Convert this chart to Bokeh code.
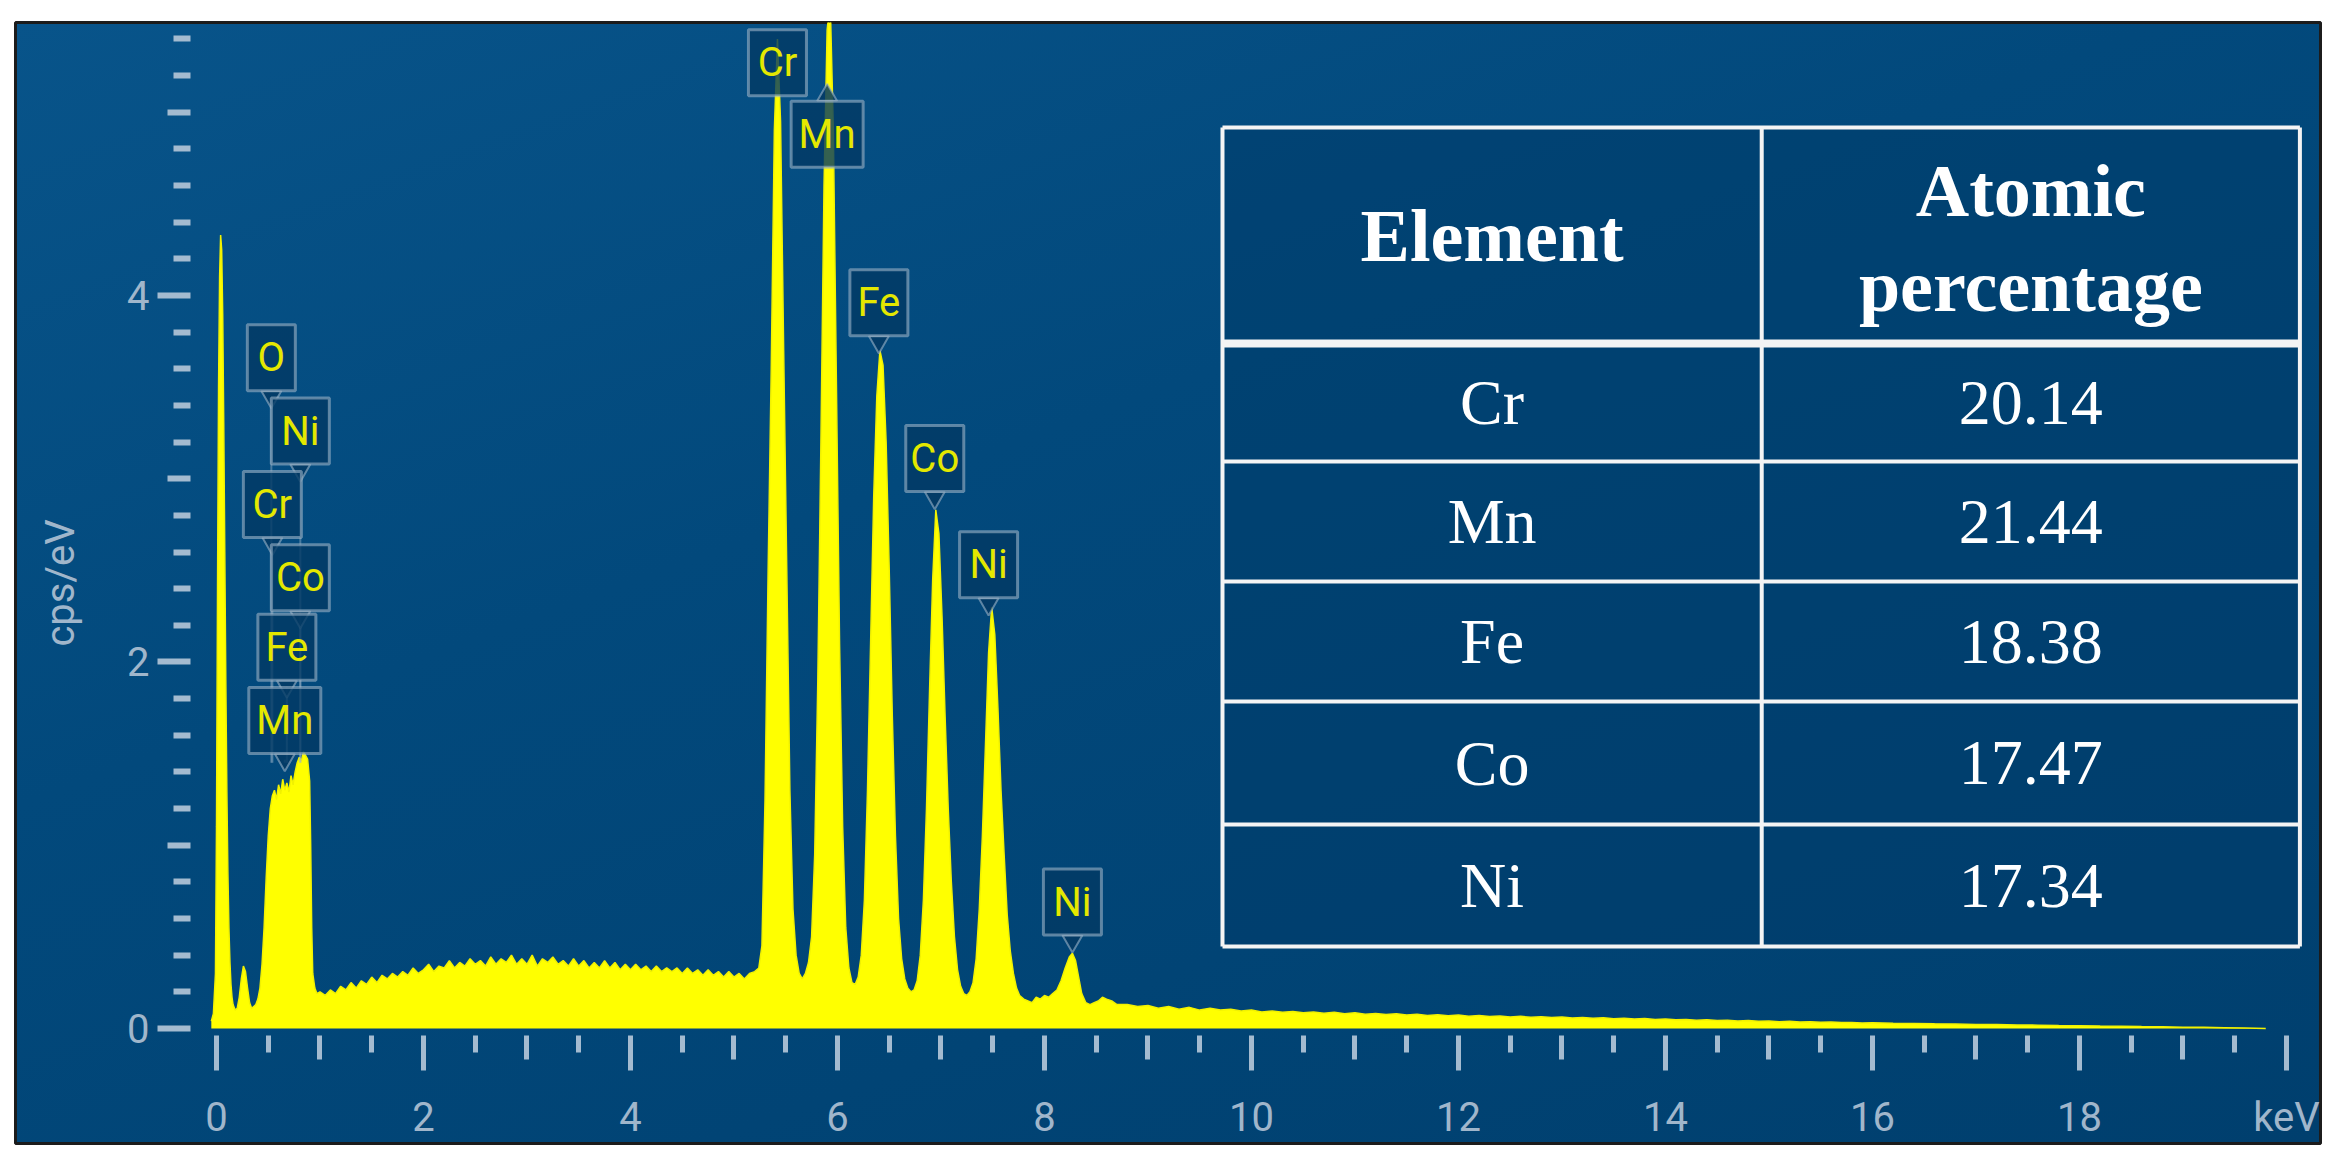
from bokeh.plotting import figure
from bokeh.models import Range1d, FixedTicker, LinearAxis, CustomLabelingPolicy
from bokeh.core.properties import value
from bokeh.embed import file_html
from bokeh.resources import INLINE

# ---------------- data ----------------
energy_kev = [
    -0.05, -0.03, -0.01, 0.00, 0.01, 0.02, 0.03, 0.04, 0.05, 0.06, 0.07, 0.08, 0.09, 0.10, 0.11,
    0.12, 0.13, 0.14, 0.15, 0.16, 0.18, 0.20, 0.22, 0.24, 0.26, 0.28, 0.30, 0.32, 0.34,
    0.36, 0.38, 0.40, 0.42, 0.44, 0.46, 0.48, 0.50, 0.52, 0.54, 0.56, 0.58, 0.60, 0.62, 0.64,
    0.66, 0.68, 0.70, 0.72, 0.74, 0.76, 0.78, 0.80, 0.82, 0.84, 0.86, 0.88, 0.90, 0.91, 0.92,
    0.93, 0.95, 0.97,
    1.00, 1.05, 1.10, 1.15, 1.20, 1.25, 1.30, 1.35, 1.40, 1.45, 1.50, 1.55, 1.60, 1.65, 1.70,
    1.75, 1.80, 1.85, 1.90, 1.95, 2.00, 2.05, 2.10, 2.15, 2.20, 2.25, 2.30, 2.35, 2.40, 2.45,
    2.50, 2.55, 2.60, 2.65, 2.70, 2.75, 2.80, 2.85, 2.90, 2.95, 3.00, 3.05, 3.10, 3.15, 3.20,
    3.25, 3.30, 3.35, 3.40, 3.45, 3.50, 3.55, 3.60, 3.65, 3.70, 3.75, 3.80, 3.85, 3.90, 3.95,
    4.00, 4.05, 4.10, 4.15, 4.20, 4.25, 4.30, 4.35, 4.40, 4.45, 4.50, 4.55, 4.60, 4.65, 4.70,
    4.75, 4.80, 4.85, 4.90, 4.95, 5.00, 5.05, 5.10, 5.15, 5.20,
    5.24, 5.27, 5.30, 5.33, 5.36, 5.39, 5.42, 5.45, 5.48, 5.51, 5.54, 5.57, 5.60, 5.63, 5.66,
    5.69, 5.72, 5.75, 5.78, 5.81, 5.84, 5.87, 5.90, 5.93, 5.96, 5.99, 6.02, 6.05, 6.08, 6.11,
    6.14, 6.17, 6.20, 6.23, 6.26, 6.29, 6.32, 6.35, 6.38, 6.41, 6.44, 6.47, 6.50, 6.53, 6.56,
    6.59, 6.62, 6.65, 6.68, 6.71, 6.74, 6.77, 6.80, 6.83, 6.86, 6.89, 6.92, 6.95, 6.98, 7.01,
    7.04, 7.07, 7.10, 7.13, 7.16, 7.19, 7.22, 7.25, 7.28, 7.31, 7.34, 7.37, 7.40, 7.43, 7.46,
    7.49, 7.52, 7.55, 7.58, 7.61, 7.64, 7.67, 7.70, 7.73, 7.76, 7.80, 7.84, 7.88, 7.92, 7.96,
    8.00, 8.04, 8.08, 8.12, 8.16, 8.20, 8.24, 8.27, 8.30, 8.33, 8.36, 8.40, 8.44, 8.48, 8.52,
    8.56, 8.60, 8.65, 8.70,
    8.8, 8.9, 9.0, 9.1, 9.2, 9.3, 9.4, 9.5, 9.6, 9.7, 9.8, 9.9, 10.0, 10.1, 10.2,
    10.3, 10.4, 10.5, 10.6, 10.7, 10.8, 10.9, 11.0, 11.1, 11.2, 11.3, 11.4, 11.5, 11.6, 11.7,
    11.8, 11.9, 12.0, 12.1, 12.2, 12.3, 12.4, 12.5, 12.6, 12.7, 12.8, 12.9, 13.0, 13.1, 13.2,
    13.3, 13.4, 13.5, 13.6, 13.7, 13.8, 13.9, 14.0, 14.1, 14.2, 14.3, 14.4, 14.5, 14.6, 14.7,
    14.8, 14.9, 15.0, 15.1, 15.2, 15.3, 15.4, 15.5, 15.6, 15.7, 15.8, 15.9, 16.0, 16.2, 16.4,
    16.6, 16.8, 17.0, 17.2, 17.4, 17.6, 17.8, 18.0, 18.2, 18.4, 18.6, 18.8, 19.0, 19.2, 19.4,
    19.6, 19.8,
]
counts_cps_ev = [
    0.04, 0.08, 0.30, 1.10, 2.40, 3.50, 4.10, 4.33, 4.25, 3.90, 3.30, 2.60, 1.90, 1.30, 0.85,
    0.55, 0.36, 0.24, 0.17, 0.13, 0.10, 0.11, 0.17, 0.27, 0.34, 0.31, 0.22, 0.14, 0.11,
    0.12, 0.13, 0.16, 0.22, 0.35, 0.55, 0.82, 1.05, 1.20, 1.27, 1.30, 1.25, 1.33, 1.28, 1.36,
    1.30, 1.34, 1.29, 1.38, 1.33, 1.40, 1.45, 1.48, 1.46, 1.51, 1.49, 1.47, 1.35, 1.00, 0.55,
    0.30, 0.22, 0.19,
    0.20, 0.18, 0.21, 0.19, 0.23, 0.21, 0.25, 0.22, 0.26, 0.24, 0.28, 0.25, 0.29, 0.27, 0.30,
    0.28, 0.31, 0.29, 0.33, 0.30, 0.32, 0.35, 0.31, 0.34, 0.33, 0.37, 0.33, 0.36, 0.34, 0.38,
    0.35, 0.37, 0.34, 0.39, 0.35, 0.38, 0.36, 0.40, 0.35, 0.38, 0.35, 0.40, 0.34, 0.38, 0.36,
    0.39, 0.35, 0.37, 0.34, 0.38, 0.34, 0.37, 0.33, 0.36, 0.33, 0.37, 0.33, 0.36, 0.32, 0.35,
    0.32, 0.35, 0.32, 0.34, 0.31, 0.34, 0.31, 0.33, 0.31, 0.33, 0.30, 0.33, 0.30, 0.32, 0.29,
    0.32, 0.29, 0.31, 0.28, 0.31, 0.28, 0.30, 0.27, 0.30, 0.31,
    0.33, 0.45, 1.25, 2.50, 3.60, 4.90, 5.40, 4.95, 3.70, 2.50, 1.30, 0.65, 0.40, 0.30, 0.27,
    0.30, 0.36, 0.50, 0.95, 1.90, 3.20, 4.60, 5.45, 5.60, 4.90, 3.50, 2.10, 1.10, 0.55, 0.33,
    0.25, 0.24, 0.28, 0.40, 0.70, 1.30, 2.10, 2.90, 3.45, 3.70, 3.62, 3.20, 2.50, 1.70, 1.05,
    0.60, 0.38, 0.27, 0.22, 0.20, 0.21, 0.26, 0.40, 0.70, 1.20, 1.85, 2.45, 2.83, 2.70, 2.25,
    1.70, 1.20, 0.80, 0.50, 0.32, 0.23, 0.19, 0.18, 0.20, 0.25, 0.38, 0.65, 1.05, 1.55, 2.05,
    2.30, 2.15, 1.75, 1.30, 0.95, 0.62, 0.42, 0.30, 0.22, 0.18, 0.16, 0.15, 0.14, 0.17, 0.16,
    0.18, 0.17, 0.19, 0.21, 0.26, 0.33, 0.39, 0.41, 0.37, 0.28, 0.19, 0.14, 0.13, 0.14, 0.15,
    0.17, 0.16, 0.15, 0.13,
    0.13, 0.12, 0.125, 0.11, 0.12, 0.105, 0.115, 0.10, 0.11, 0.10, 0.105, 0.095, 0.10, 0.09, 0.095,
    0.088, 0.093, 0.085, 0.09, 0.083, 0.088, 0.08, 0.085, 0.078, 0.082, 0.076, 0.08, 0.073, 0.077, 0.071,
    0.075, 0.069, 0.073, 0.067, 0.07, 0.065, 0.068, 0.063, 0.066, 0.061, 0.064, 0.059, 0.062, 0.057, 0.06,
    0.055, 0.058, 0.053, 0.056, 0.051, 0.054, 0.049, 0.051, 0.047, 0.049, 0.045, 0.047, 0.043, 0.045, 0.041,
    0.043, 0.039, 0.041, 0.037, 0.039, 0.035, 0.037, 0.034, 0.035, 0.032, 0.033, 0.03, 0.031, 0.028, 0.027,
    0.025, 0.024, 0.022, 0.021, 0.019, 0.018, 0.016, 0.015, 0.013, 0.012, 0.01, 0.009, 0.007, 0.006, 0.004,
    0.002, 0.0,
]

# peak tags (element, energy of tag, height of tag centre)
tag_names = ["Cr", "Mn", "Fe", "Co", "Ni", "Ni", "O", "Ni", "Cr", "Co", "Fe", "Mn"]
tag_x_kev = [5.42, 5.90, 6.40, 6.94, 7.46, 8.27, 0.53, 0.81, 0.54, 0.81, 0.68, 0.66]
tag_y_cps = [5.27, 4.88, 3.96, 3.11, 2.53, 0.69, 3.66, 3.26, 2.86, 2.46, 2.08, 1.68]
tag_notch = ["none", "up", "down", "down", "down", "down", "down", "down", "down", "down", "down", "down"]
tag_leader = [False, False, False, False, False, False, True, True, True, True, True, True]

# table of composition
table_elements = ["Cr", "Mn", "Fe", "Co", "Ni"]
table_atomic_pct = ["20.14", "21.44", "18.38", "17.47", "17.34"]
table_header = ["Element", "Atomic", "percentage"]

# axis ticks
x_major_ticks = [0, 2, 4, 6, 8, 10, 12, 14, 16, 18, 20]
x_mid_ticks = [1, 3, 5, 7, 9, 11, 13, 15, 17, 19]
x_minor_ticks = [0.5, 1.5, 2.5, 3.5, 4.5, 5.5, 6.5, 7.5, 8.5, 9.5, 10.5, 11.5,
                 12.5, 13.5, 14.5, 15.5, 16.5, 17.5, 18.5, 19.5]
x_tick_overrides = {20: "keV"}
y_major_ticks = [0, 2, 4]
y_mid_ticks = [1, 3, 5]
y_minor_ticks = [0.2, 0.4, 0.6, 0.8, 1.2, 1.4, 1.6, 1.8, 2.2, 2.4, 2.6, 2.8, 3.2, 3.4,
                 3.6, 3.8, 4.2, 4.4, 4.6, 4.8, 5.2, 5.4]

# ---------------- layout / style ----------------
# the plot frame is the whole blue panel; the axes sit inside it
FW, FH = 2340, 1153
ML, MR, MT, MB = 15, 20, 22, 10
X0, X1 = -1.942, 20.329
Y0, Y1 = -0.628, 5.490
AX_X = -0.251      # where the y ticks end
AX_Y = -0.038      # where the x ticks start
PX_PER_Y = (FH - MT - MB) / (Y1 - Y0)

TICK_C = "#a4bbd0"
LABEL_C = "#a0b6cb"
SANS = "Roboto"
SERIF = "Liberation Serif"
TAG_FILL = "#033a64"
TAG_LINE = "#9db4c8"

p = figure(width=FW, height=FH, output_backend="svg", toolbar_location=None,
           x_range=Range1d(X0, X1), y_range=Range1d(Y0, Y1),
           x_axis_location=None, y_axis_location=None,
           min_border_left=ML, min_border_right=MR, min_border_top=MT, min_border_bottom=MB)
panel_w = FW - ML - MR
panel_h = FH - MT - MB
p.styles = {
    "background": "white linear-gradient(160deg, #08548a 0%, #02497c 40%, #003f6e 100%) "
                  f"{ML}px {MT}px / {panel_w}px {panel_h}px no-repeat",
}
p.background_fill_alpha = 0
p.border_fill_color = "white"
p.border_fill_alpha = 1
p.outline_line_color = "#1c1c1c"
p.outline_line_width = 3
p.grid.visible = False


def style_ticks(ax, major_out, minor_out, lw):
    ax.axis_line_color = None
    ax.major_tick_in = 0
    ax.major_tick_out = major_out
    ax.minor_tick_in = 0
    ax.minor_tick_out = minor_out
    ax.major_tick_line_color = TICK_C
    ax.minor_tick_line_color = TICK_C
    ax.major_tick_line_width = lw
    ax.minor_tick_line_width = lw


NO_LABELS = CustomLabelingPolicy(code="return []")

# x axis
xa = LinearAxis(fixed_location=AX_Y,
                ticker=FixedTicker(ticks=x_major_ticks, minor_ticks=x_minor_ticks))
xa.major_label_overrides = x_tick_overrides
style_ticks(xa, 35, 17, 5)
xa.major_label_text_font = SANS
xa.major_label_text_font_size = "40px"
xa.major_label_text_color = LABEL_C
xa.major_label_standoff = 24
p.add_layout(xa, "below")

xmid = LinearAxis(fixed_location=AX_Y, ticker=FixedTicker(ticks=x_mid_ticks, minor_ticks=[]),
                  major_label_policy=NO_LABELS)
style_ticks(xmid, 24, 0, 5)
p.add_layout(xmid, "below")

# y axis
ya = LinearAxis(fixed_location=AX_X,
                ticker=FixedTicker(ticks=y_major_ticks, minor_ticks=y_minor_ticks))
style_ticks(ya, 33, 17, 6)
ya.major_label_text_font = SANS
ya.major_label_text_font_size = "40px"
ya.major_label_text_color = LABEL_C
ya.major_label_standoff = 8
ya.axis_label = "cps/eV"
ya.axis_label_text_font = SANS
ya.axis_label_text_font_size = "40px"
ya.axis_label_text_font_style = "normal"
ya.axis_label_text_color = LABEL_C
ya.axis_label_standoff = 40
p.add_layout(ya, "left")

ymid = LinearAxis(fixed_location=AX_X, ticker=FixedTicker(ticks=y_mid_ticks, minor_ticks=[]),
                  major_label_policy=NO_LABELS)
style_ticks(ymid, 23, 0, 6)
p.add_layout(ymid, "left")

# spectrum
p.varea(x=energy_kev, y1=0, y2=counts_cps_ev, fill_color="#ffff00")
p.line(x=energy_kev, y=counts_cps_ev, line_color="#f2f200", line_width=1.5)

# table (positions in data units)
T_L, T_M, T_R = 9.72, 14.93, 20.13
T_ROWS = [4.917, 3.738, 3.094, 2.439, 1.784, 1.113, 0.447]
p.quad(left=[T_L], right=[T_R], top=[T_ROWS[0]], bottom=[T_ROWS[-1]],
       fill_color="#003c69", fill_alpha=0.55, line_color=None)
for i, yy in enumerate(T_ROWS):
    p.segment(x0=[T_L], y0=[yy], x1=[T_R], y1=[yy], line_color="#f4f4f4",
              line_width=8 if i == 1 else 4)
for xx in (T_L, T_M, T_R):
    p.segment(x0=[xx], y0=[T_ROWS[-1]], x1=[xx], y1=[T_ROWS[0]], line_color="#f4f4f4", line_width=4)

col1 = (T_L + T_M) / 2
col2 = (T_M + T_R) / 2
p.text(x=[col1], y=[(T_ROWS[0] + T_ROWS[1]) / 2], text=[table_header[0]],
       text_font=value(SERIF), text_font_style="bold", text_font_size="74px",
       text_color="white", text_align="center", text_baseline="middle")
p.text(x=[col2, col2], y=[4.57, 4.05], text=table_header[1:],
       text_font=value(SERIF), text_font_style="bold", text_font_size="74px",
       text_color="white", text_align="center", text_baseline="middle")
row_c = [(T_ROWS[i + 1] + T_ROWS[i + 2]) / 2 for i in range(len(table_elements))]
p.text(x=[col1] * len(table_elements), y=row_c, text=table_elements,
       text_font=value(SERIF), text_font_size="64px", text_color="white",
       text_align="center", text_baseline="middle")
p.text(x=[col2] * len(table_elements), y=row_c, text=table_atomic_pct,
       text_font=value(SERIF), text_font_size="64px", text_color="white",
       text_align="center", text_baseline="middle")

# peak tags
BOX_H = 66
tag_w = [72 if t == "Mn" else (48 if len(t) == 1 else 58) for t in tag_names]
off = (BOX_H / 2 + 6) / PX_PER_Y
ld_x = [x for x, l in zip(tag_x_kev, tag_leader) if l]
ld_y = [y - off for y, l in zip(tag_y_cps, tag_leader) if l]
p.segment(x0=ld_x, y0=ld_y, x1=ld_x, y1=[1.45] * len(ld_x), line_color=TAG_LINE,
          line_alpha=0.45, line_width=2)
dn_x = [x for x, n in zip(tag_x_kev, tag_notch) if n == "down"]
dn_y = [y - off for y, n in zip(tag_y_cps, tag_notch) if n == "down"]
up_x = [x for x, n in zip(tag_x_kev, tag_notch) if n == "up"]
up_y = [y + off for y, n in zip(tag_y_cps, tag_notch) if n == "up"]
p.scatter(x=dn_x, y=dn_y, marker="inverted_triangle", size=20, fill_color=TAG_FILL,
          fill_alpha=0.85, line_color=TAG_LINE, line_alpha=0.6, line_width=2)
p.scatter(x=up_x, y=up_y, marker="triangle", size=20, fill_color=TAG_FILL,
          fill_alpha=0.85, line_color=TAG_LINE, line_alpha=0.6, line_width=2)
p.rect(x=tag_x_kev, y=tag_y_cps, width=tag_w, height=BOX_H, width_units="screen",
       height_units="screen", fill_color=TAG_FILL, fill_alpha=0.8,
       line_color=TAG_LINE, line_alpha=0.6, line_width=3)
p.text(x=tag_x_kev, y=tag_y_cps, text=tag_names, text_font=value(SANS),
       text_font_size="40px", text_color="#e4e800", text_align="center",
       text_baseline="middle")

open("out.html", "w").write(file_html(p, INLINE))
